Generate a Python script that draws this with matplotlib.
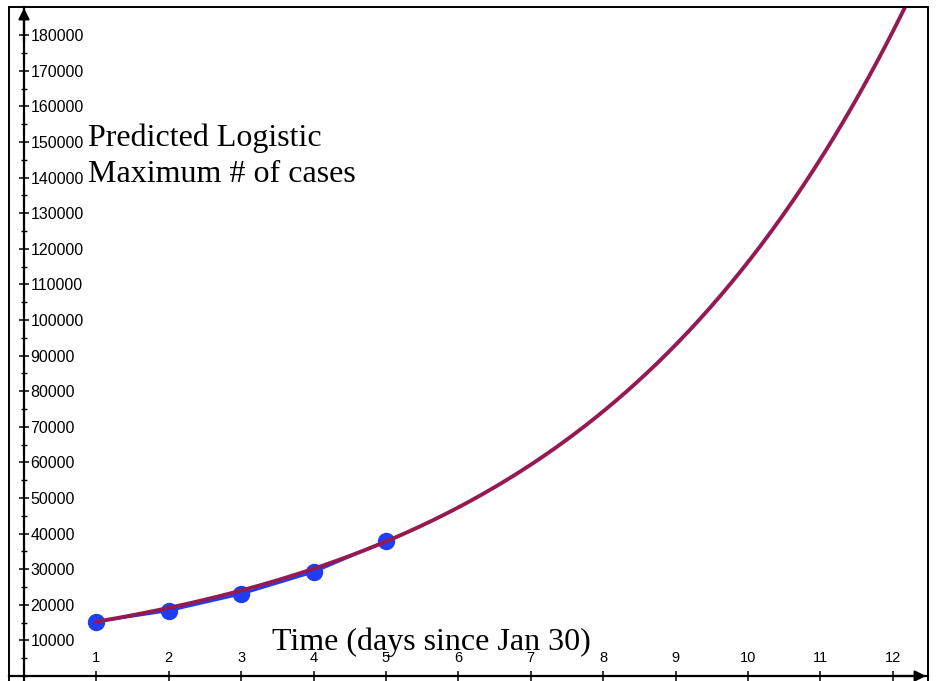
import numpy as np
import matplotlib
matplotlib.use('Agg')
import matplotlib.pyplot as plt
from matplotlib.patches import Rectangle
from matplotlib.ticker import MultipleLocator

# observed cases, days since Jan 30
days = [1, 2, 3, 4, 5]
cases = [15250, 18350, 23030, 29200, 37900]

# logistic model parameters
K = 5000000.0
A = 410.6
r = 0.228

x_ticks = list(range(1, 13))
y_ticks = list(range(10000, 190000, 10000))

W, H = 936, 681
fig = plt.figure(figsize=(W / 100, H / 100), dpi=100)

# pixel geometry of the frame and the axis origin
left_px, right_px, top_px = 9, 928, 7
x0_px, px_per_day = 24, 72.4
y0_px, px_per_10k = 676, 35.6

def dx(px):
    return (px - x0_px) / px_per_day

def dy(px):
    return (y0_px - px) / px_per_10k * 10000

ax = fig.add_axes([left_px / W, 0, (right_px - left_px) / W, (H - top_px) / H])
ax.set_xlim(dx(left_px), dx(right_px))
ax.set_ylim(dy(H), dy(top_px))

# use right/top spines as the axes through the origin
for s in ['left', 'bottom']:
    ax.spines[s].set_visible(False)
ax.spines['right'].set_position(('data', 0))
ax.spines['top'].set_position(('data', 0))
ax.spines['right'].set_linewidth(1.6)
ax.spines['top'].set_linewidth(1.6)

ax.yaxis.tick_right()
ax.xaxis.tick_top()
ax.set_xticks(x_ticks)
ax.set_yticks(y_ticks)
ax.yaxis.set_minor_locator(MultipleLocator(5000))
ax.tick_params(axis='y', which='major', direction='inout', length=7.2, width=1.1, pad=1, labelsize=11.5)
ax.tick_params(axis='y', which='minor', direction='inout', length=4.3, width=1.0)
ax.tick_params(axis='x', which='major', direction='inout', length=7.2, width=1.1, pad=4, labelsize=10.5)
for lab in ax.get_xticklabels() + ax.get_yticklabels():
    lab.set_family('Liberation Sans')

# arrow heads
ax.annotate('', xy=(0, dy(8)), xytext=(0, 178000),
            arrowprops=dict(arrowstyle='-|>', color='black', lw=1.6, mutation_scale=16,
                            shrinkA=0, shrinkB=0), annotation_clip=False)
ax.annotate('', xy=(dx(926), 0), xytext=(12.0, 0),
            arrowprops=dict(arrowstyle='-|>', color='black', lw=1.6, mutation_scale=16,
                            shrinkA=0, shrinkB=0), annotation_clip=False)

# fitted curve
xs = np.linspace(1, 12.5, 400)
ys = K / (1 + A * np.exp(-r * xs))

ax.plot(days, cases, color='#1f3df5', lw=2, marker='o', ms=11.5, zorder=3)
ax.plot(xs, ys, color='#951a52', lw=2.8, zorder=4)

ax.text(dx(88), dy(146), 'Predicted Logistic', family='Liberation Serif', fontsize=23, va='baseline')
ax.text(dx(88), dy(182), 'Maximum # of cases', family='Liberation Serif', fontsize=23, va='baseline')
ax.text(dx(272), dy(650), 'Time (days since Jan 30)', family='Liberation Serif', fontsize=23,
        va='baseline', zorder=5)

# outer frame
fig.patches.append(Rectangle((left_px / W, -0.01), (right_px - left_px) / W, (H - top_px) / H + 0.01,
                             transform=fig.transFigure, fill=False, ec='black', lw=1.4, zorder=10))

fig.savefig('out.png', dpi=100)
